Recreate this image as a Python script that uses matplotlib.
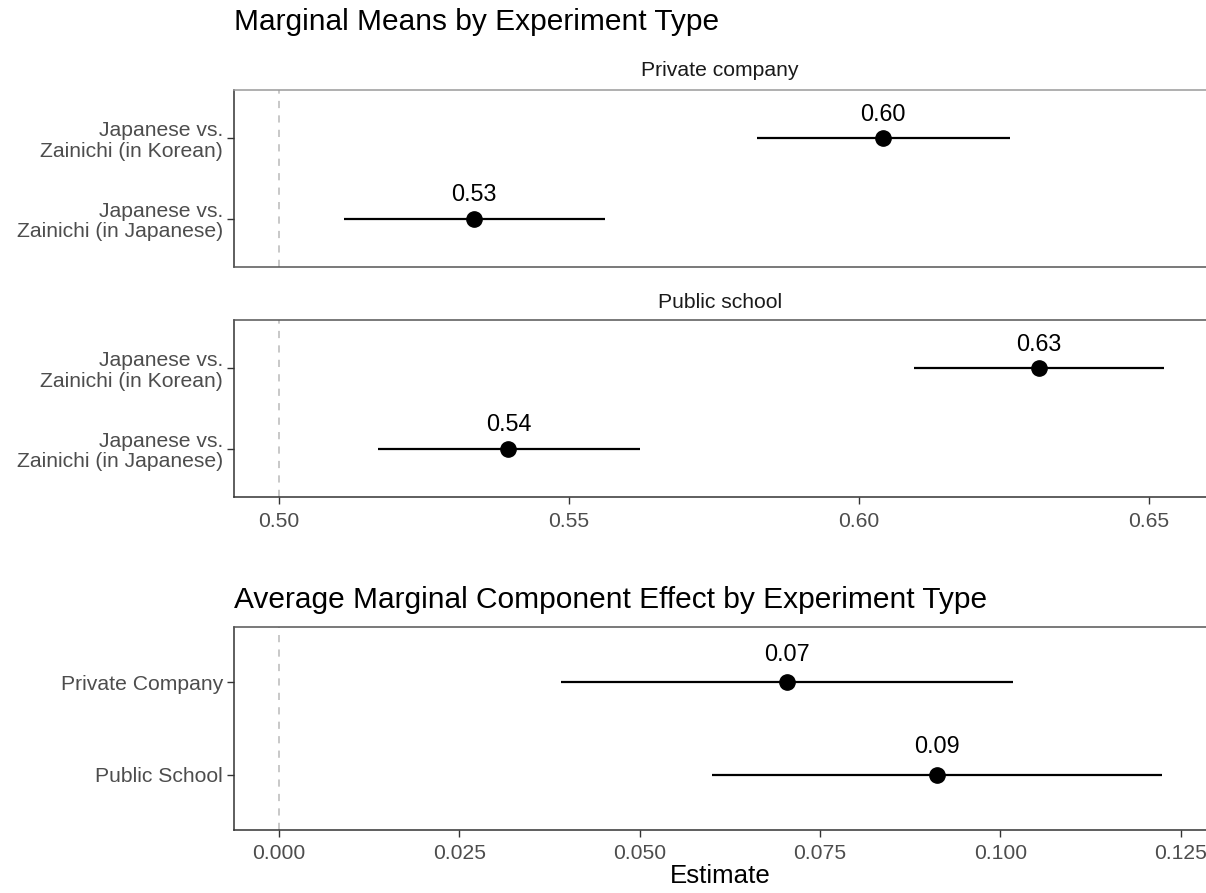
import matplotlib
matplotlib.use("Agg")
import matplotlib.pyplot as plt

plt.rcParams['font.family'] = ['Liberation Sans', 'DejaVu Sans']

# marginal means, one row per profile, per experiment
mm_labels = ["Japanese vs.\nZainichi (in Japanese)", "Japanese vs.\nZainichi (in Korean)"]
private_est = [0.5337, 0.6042]
private_lo = [0.5112, 0.5824]
private_hi = [0.5562, 0.6261]
public_est = [0.5396, 0.6310]
public_lo = [0.5171, 0.6094]
public_hi = [0.5622, 0.6525]

# AMCE per experiment
amce_labels = ["Public School", "Private Company"]
amce_est = [0.0912, 0.0704]
amce_lo = [0.0601, 0.0391]
amce_hi = [0.1224, 0.1018]

W, H = 1206, 893
fig = plt.figure(figsize=(W / 100, H / 100), dpi=100)

def box(left, top, right, bottom):
    return [left / W, 1 - bottom / H, (right - left) / W, (bottom - top) / H]

ax1 = fig.add_axes(box(234, 90, 1206, 267))
ax2 = fig.add_axes(box(234, 320, 1206, 497))
ax3 = fig.add_axes(box(234, 627, 1206, 830))

AXIS_TXT = 15.2

def draw_panel(ax, labels, est, lo, hi, ref, xlim, xticks, xticklabels, top_color):
    ys = list(range(1, len(labels) + 1))
    ax.axvline(ref, color='#c4c4c4', lw=1.3, ls=(0, (4, 4)), zorder=1)
    ax.hlines(ys, lo, hi, color='black', lw=1.6, zorder=2)
    ax.plot(est, ys, 'o', color='black', ms=11, zorder=3)
    for e, y in zip(est, ys):
        ax.text(e, y + 0.3, f"{e:.2f}", ha='center', va='center', fontsize=16.8, color='black')
    ax.set_ylim(0.4, len(labels) + 0.6)
    ax.set_yticks(ys)
    ax.set_yticklabels(labels, fontsize=AXIS_TXT, color='#4d4d4d', linespacing=1.1)
    ax.set_xlim(*xlim)
    ax.set_xticks(xticks)
    ax.set_xticklabels(xticklabels, fontsize=AXIS_TXT, color='#4d4d4d')
    ax.tick_params(length=5, width=1.0, color='#333333', pad=3)
    ax.tick_params(axis='x', pad=6)
    ax.spines['right'].set_visible(False)
    for s in ('left', 'bottom'):
        ax.spines[s].set_color('#333333')
        ax.spines[s].set_linewidth(1.1)
    ax.spines['top'].set_color(top_color)
    ax.spines['top'].set_linewidth(1.1)

mm_ticks = [0.50, 0.55, 0.60, 0.65]
mm_lim = (0.4923, 0.6598)
draw_panel(ax1, mm_labels, private_est, private_lo, private_hi, 0.5, mm_lim, mm_ticks, [], '#9a9a9a')
ax1.tick_params(axis='x', length=0)
ax1.spines['bottom'].set_color('#555555')
draw_panel(ax2, mm_labels, public_est, public_lo, public_hi, 0.5, mm_lim, mm_ticks,
           [f"{t:.2f}" for t in mm_ticks], '#555555')

amce_ticks = [0.0, 0.025, 0.05, 0.075, 0.1, 0.125]
draw_panel(ax3, amce_labels, amce_est, amce_lo, amce_hi, 0.0, (-0.0062, 0.1285), amce_ticks,
           [f"{t:.3f}" for t in amce_ticks], '#555555')
ax3.tick_params(axis='x', pad=5)
ax3.set_xlabel("Estimate", fontsize=18.6, color='black', labelpad=1)

# facet strip labels
fig.text(720 / W, 1 - 70 / H, "Private company", ha='center', va='center', fontsize=AXIS_TXT, color='#1a1a1a')
fig.text(720 / W, 1 - 303 / H, "Public school", ha='center', va='center', fontsize=AXIS_TXT, color='#1a1a1a')

fig.text(234 / W, 1 - 22 / H, "Marginal Means by Experiment Type", ha='left', va='center', fontsize=21.5)
fig.text(234 / W, 1 - 600 / H, "Average Marginal Component Effect by Experiment Type",
         ha='left', va='center', fontsize=21.5)

fig.savefig("out.png", dpi=100, facecolor='white')
